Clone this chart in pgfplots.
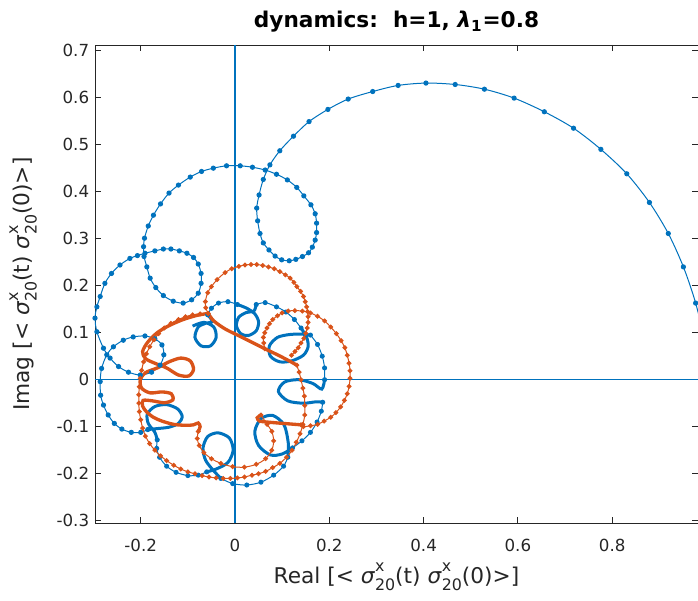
\documentclass[border=0pt]{standalone}
\usepackage{pgfplots}
\pgfplotsset{compat=1.18}
\usepackage{fontspec}
\setmainfont{DejaVu Sans}
\definecolor{mblue}{rgb}{0,0.447,0.741}
\definecolor{morange}{rgb}{0.85,0.325,0.098}
\definecolor{axgray}{rgb}{0.15,0.15,0.15}
\newcommand{\sig}{\textit{σ}\rlap{\raisebox{0.95ex}{\fontsize{9.5}{9.5}\selectfont x}}\raisebox{-0.6ex}{\fontsize{9.5}{9.5}\selectfont 20}}
\begin{document}
\begin{tikzpicture}
\useasboundingbox (-57pt,-46.6pt) rectangle (361.8pt,314pt);
\begin{axis}[
  scale only axis, width=361.8pt, height=287pt,
  xmin=-0.297, xmax=0.982, ymin=-0.3055, ymax=0.712,
  axis line style={axgray, line width=0.5pt},
  tick style={axgray, line width=0.5pt},
  tick align=inside, major tick length=3.6pt,
  xtick={-0.2,0,0.2,0.4,0.6,0.8},
  ytick={-0.3,-0.2,-0.1,0,0.1,0.2,0.3,0.4,0.5,0.6,0.7},
  /pgf/number format/assume math mode=true,
  /pgf/number format/fixed, /pgf/number format/precision=1,
  ticklabel style={font=\fontsize{10}{12}\selectfont, text=axgray},
  xticklabel shift=6pt,
  title={\bfseries dynamics:\ \ h=1, \textit{λ}\textsubscript{1}=0.8},
  title style={font=\fontsize{13}{15}\selectfont, yshift=-2pt},
  xlabel={Real [< \sig(t) \sig(0)>]},
  ylabel={Imag [< \sig(t) \sig(0)>]},
  label style={font=\fontsize{13}{15}\selectfont, text=axgray},
  ylabel style={yshift=5pt},
  clip=true,
]
\addplot[mblue, line width=0.8pt] coordinates {(0,-0.3055) (0,0.712)};
\addplot[mblue, line width=0.8pt] coordinates {(-0.297,0) (0.982,0)};
% blue: outer loops, read marker by marker
\addplot[mblue, line width=0.6pt, smooth, mark=*, mark size=1.25pt] coordinates {
(1.000,0.000) (0.995,0.083) (0.977,0.163) (0.951,0.240) (0.919,0.311) (0.879,0.377)
(0.831,0.438) (0.776,0.490) (0.718,0.535) (0.656,0.570) (0.592,0.599) (0.529,0.618)
(0.467,0.628) (0.405,0.631) (0.346,0.626) (0.292,0.613) (0.240,0.597) (0.197,0.575)
(0.157,0.549) (0.124,0.518) (0.095,0.487) (0.074,0.457) (0.060,0.426) (0.051,0.393)
(0.046,0.365) (0.048,0.338) (0.053,0.311) (0.060,0.291) (0.072,0.276) (0.085,0.263)
(0.099,0.255) (0.115,0.253) (0.129,0.256) (0.143,0.262) (0.156,0.270) (0.164,0.282)
(0.170,0.297) (0.173,0.313) (0.173,0.333) (0.170,0.353) (0.161,0.372) (0.146,0.391)
(0.131,0.409) (0.111,0.425) (0.088,0.437) (0.064,0.446) (0.037,0.452) (0.011,0.455)
(-0.018,0.455) (-0.046,0.450) (-0.071,0.443) (-0.095,0.431) (-0.120,0.414) (-0.140,0.397)
(-0.158,0.374) (-0.173,0.350) (-0.184,0.327) (-0.192,0.301) (-0.194,0.283) (-0.193,0.262)
(-0.187,0.240) (-0.180,0.216) (-0.168,0.196) (-0.152,0.179) (-0.131,0.167) (-0.110,0.163)
(-0.092,0.170) (-0.078,0.184) (-0.072,0.205) (-0.072,0.226) (-0.078,0.246) (-0.088,0.260)
(-0.102,0.269) (-0.118,0.274) (-0.136,0.278) (-0.152,0.278) (-0.170,0.274) (-0.191,0.269)
(-0.207,0.264) (-0.223,0.258) (-0.244,0.244) (-0.262,0.226) (-0.276,0.205) (-0.286,0.177)
(-0.293,0.155) (-0.297,0.131) (-0.293,0.102) (-0.279,0.067) (-0.265,0.046) (-0.247,0.028)
(-0.226,0.016) (-0.201,0.010) (-0.177,0.016) (-0.159,0.031) (-0.151,0.053) (-0.155,0.074)
(-0.170,0.087) (-0.191,0.093) (-0.216,0.091) (-0.237,0.084) (-0.258,0.070) (-0.272,0.053)
(-0.283,0.024) (-0.286,-0.004) (-0.285,-0.033) (-0.279,-0.054) (-0.269,-0.075) (-0.256,-0.093)
(-0.240,-0.105) (-0.220,-0.112) (-0.200,-0.112) (-0.185,-0.106)
};
% blue: inner ring, small loops (slow, dense markers)
\addplot[mblue, line width=1.8pt, smooth] coordinates {
(-0.185,-0.106) (-0.165,-0.104) (-0.140,-0.101) (-0.120,-0.093) (-0.112,-0.078) (-0.122,-0.062)
(-0.145,-0.053) (-0.170,-0.057) (-0.186,-0.073) (-0.184,-0.093) (-0.170,-0.112) (-0.165,-0.128)
};
\addplot[mblue, line width=0.6pt, smooth, mark=*, mark size=1.2pt] coordinates {
(-0.165,-0.128) (-0.166,-0.146) (-0.160,-0.165) (-0.145,-0.184) (-0.125,-0.197) (-0.100,-0.204)
(-0.078,-0.203) (-0.060,-0.196)
};
\addplot[mblue, line width=1.8pt, smooth] coordinates {
(-0.060,-0.196) (-0.040,-0.190) (-0.015,-0.176) (-0.004,-0.150) (-0.012,-0.124) (-0.036,-0.113)
(-0.058,-0.121) (-0.068,-0.146) (-0.062,-0.172) (-0.045,-0.194) (-0.030,-0.210)
};
\addplot[mblue, line width=0.6pt, smooth, mark=*, mark size=1.2pt] coordinates {
(-0.030,-0.210) (-0.005,-0.221) (0.025,-0.224) (0.055,-0.218) (0.082,-0.203) (0.103,-0.184)
(0.112,-0.165)
};
\addplot[mblue, line width=1.8pt, smooth] coordinates {
(0.112,-0.165) (0.113,-0.135) (0.104,-0.096) (0.080,-0.076) (0.055,-0.083) (0.042,-0.110)
(0.050,-0.140) (0.075,-0.160) (0.100,-0.158) (0.122,-0.145)
};
\addplot[mblue, line width=0.6pt, smooth, mark=*, mark size=1.2pt] coordinates {
(0.122,-0.145) (0.142,-0.130) (0.160,-0.112) (0.174,-0.090) (0.183,-0.067) (0.186,-0.048)
};
\addplot[mblue, line width=1.8pt, smooth] coordinates {
(0.186,-0.048) (0.172,-0.047) (0.145,-0.050) (0.112,-0.045) (0.092,-0.025) (0.105,-0.005)
(0.135,0.000) (0.165,-0.008) (0.184,-0.020) (0.190,0.000)
};
\addplot[mblue, line width=0.6pt, smooth, mark=*, mark size=1.2pt] coordinates {
(0.190,0.000) (0.190,0.025) (0.185,0.050) (0.175,0.075) (0.160,0.095)
};
\addplot[mblue, line width=1.8pt, smooth] coordinates {
(0.160,0.095) (0.140,0.097) (0.115,0.096) (0.090,0.090) (0.073,0.072) (0.075,0.050)
(0.095,0.038) (0.120,0.040) (0.145,0.052) (0.155,0.070) (0.152,0.090) (0.140,0.110)
};
\addplot[mblue, line width=0.6pt, smooth, mark=*, mark size=1.2pt] coordinates {
(0.140,0.110) (0.126,0.128) (0.108,0.144) (0.088,0.155) (0.064,0.164) (0.045,0.160)
};
\addplot[mblue, line width=1.8pt, smooth] coordinates {
(0.045,0.160) (0.040,0.146) (0.024,0.143) (0.008,0.133) (0.003,0.115) (0.012,0.098)
(0.028,0.094) (0.045,0.104) (0.050,0.123) (0.042,0.140) (0.025,0.152) (0.005,0.160)
};
\addplot[mblue, line width=0.6pt, smooth, mark=*, mark size=1.2pt] coordinates {
(0.005,0.160) (-0.015,0.166) (-0.035,0.163) (-0.050,0.152) (-0.058,0.138)
};
\addplot[mblue, line width=1.8pt, smooth] coordinates {
(-0.058,0.138) (-0.048,0.124) (-0.062,0.120) (-0.078,0.112) (-0.085,0.090) (-0.072,0.072)
(-0.052,0.072) (-0.040,0.090) (-0.045,0.112) (-0.066,0.122) (-0.090,0.114)
};
% orange: slow stretches (dense markers)
\addplot[morange, line width=2pt, smooth] coordinates {
(-0.057,0.141) (-0.080,0.137) (-0.110,0.128) (-0.140,0.115) (-0.165,0.100) (-0.185,0.080)
(-0.196,0.060) (-0.190,0.045) (-0.170,0.035) (-0.145,0.025) (-0.120,0.010) (-0.098,0.008)
(-0.088,0.022) (-0.095,0.040) (-0.115,0.046) (-0.140,0.038) (-0.165,0.025) (-0.190,0.015)
(-0.201,0.000) (-0.198,-0.018) (-0.180,-0.028) (-0.155,-0.026) (-0.135,-0.030) (-0.132,-0.043)
(-0.150,-0.049) (-0.175,-0.045) (-0.195,-0.044) (-0.196,-0.056) (-0.188,-0.068) (-0.173,-0.080)
(-0.155,-0.088) (-0.130,-0.095) (-0.105,-0.097) (-0.088,-0.096) (-0.078,-0.092) (-0.074,-0.100)
(-0.078,-0.110)
};
\addplot[morange, line width=2pt, smooth] coordinates {
(-0.057,0.141) (-0.045,0.125) (-0.021,0.108) (0.007,0.094) (0.035,0.080) (0.063,0.066)
(0.092,0.052) (0.115,0.040) (0.131,0.031)
};
\addplot[morange, line width=2pt, smooth] coordinates {
(0.055,-0.075) (0.047,-0.081) (0.052,-0.088) (0.067,-0.090) (0.090,-0.092) (0.115,-0.094)
(0.140,-0.096)
};
% orange: fast stretches
\addplot[morange, line width=0.6pt, smooth, mark=*, mark size=1.15pt] coordinates {
(-0.057,0.141) (-0.062,0.153) (-0.063,0.166) (-0.058,0.185) (-0.050,0.198) (-0.038,0.213)
(-0.021,0.228) (-0.007,0.236) (0.008,0.241) (0.021,0.244) (0.034,0.245) (0.046,0.245)
(0.059,0.243) (0.071,0.240) (0.083,0.236) (0.095,0.230) (0.107,0.223) (0.117,0.216)
(0.125,0.207) (0.131,0.198) (0.139,0.188) (0.145,0.177) (0.149,0.166) (0.152,0.155)
(0.154,0.145) (0.155,0.134) (0.155,0.122) (0.153,0.110) (0.150,0.099) (0.146,0.088)
(0.140,0.078) (0.134,0.068) (0.127,0.060) (0.120,0.052)
};
\addplot[morange, line width=0.6pt, smooth, mark=*, mark size=1.15pt] coordinates {
(0.063,0.066) (0.061,0.078) (0.060,0.090) (0.063,0.100) (0.068,0.110) (0.073,0.119)
(0.080,0.128) (0.090,0.136) (0.100,0.142) (0.113,0.146) (0.127,0.147) (0.143,0.146)
(0.160,0.142) (0.175,0.135) (0.190,0.125) (0.203,0.112) (0.215,0.098) (0.225,0.083)
(0.233,0.068) (0.238,0.052) (0.242,0.035) (0.244,0.019) (0.244,0.003) (0.242,-0.014)
(0.238,-0.030) (0.232,-0.044) (0.224,-0.058) (0.214,-0.070) (0.203,-0.080) (0.189,-0.088)
(0.175,-0.095) (0.160,-0.098) (0.145,-0.100) (0.140,-0.096)
};
\addplot[morange, line width=0.6pt, smooth, mark=*, mark size=1.15pt] coordinates {
(0.131,0.031) (0.136,0.016) (0.140,0.000) (0.144,-0.018) (0.147,-0.035) (0.148,-0.055)
(0.148,-0.075) (0.144,-0.095) (0.138,-0.115) (0.130,-0.133) (0.121,-0.150) (0.109,-0.165)
(0.095,-0.178) (0.080,-0.187) (0.065,-0.195) (0.050,-0.200) (0.036,-0.203) (0.020,-0.207)
(0.005,-0.209) (-0.010,-0.210) (-0.025,-0.210) (-0.040,-0.209) (-0.055,-0.207) (-0.070,-0.204)
(-0.085,-0.200) (-0.100,-0.196) (-0.115,-0.190) (-0.130,-0.182) (-0.145,-0.172) (-0.158,-0.162)
(-0.170,-0.150) (-0.181,-0.136) (-0.190,-0.120) (-0.196,-0.103) (-0.200,-0.085) (-0.203,-0.068)
(-0.204,-0.050) (-0.204,-0.032) (-0.203,-0.015) (-0.201,0.003) (-0.198,0.020) (-0.194,0.038)
(-0.188,0.055) (-0.181,0.070) (-0.172,0.085) (-0.162,0.098) (-0.150,0.110) (-0.136,0.120)
(-0.120,0.128) (-0.105,0.134) (-0.090,0.138) (-0.074,0.140) (-0.057,0.141)
};
\addplot[morange, line width=0.6pt, smooth, mark=*, mark size=1.15pt] coordinates {
(-0.078,-0.110) (-0.080,-0.125) (-0.076,-0.140) (-0.066,-0.155) (-0.050,-0.168) (-0.030,-0.178)
(-0.005,-0.185) (0.020,-0.186) (0.045,-0.180) (0.065,-0.168) (0.078,-0.150) (0.082,-0.130)
(0.078,-0.110) (0.068,-0.095) (0.055,-0.075)
};
\end{axis}
\end{tikzpicture}
\end{document}
